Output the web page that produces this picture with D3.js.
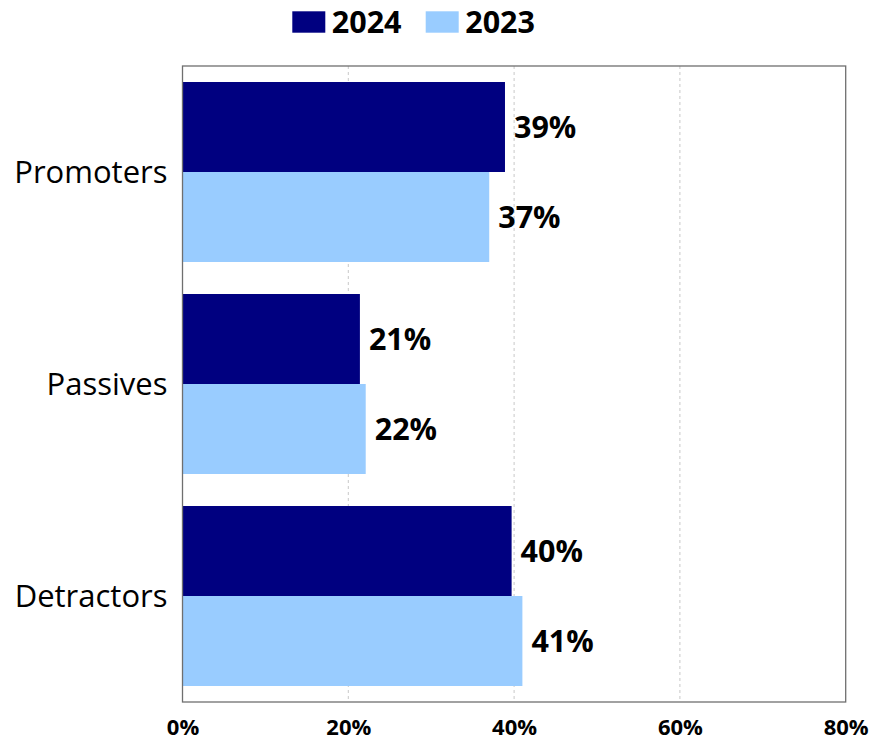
<!DOCTYPE html>
<html>
<head>
<meta charset="utf-8">
<script src="https://cdn.jsdelivr.net/npm/d3@7"></script>
<style>
  html, body { margin: 0; padding: 0; background: #fff; }
  svg { display: block; font-family: "Open Sans", sans-serif; }
</style>
</head>
<body>
<svg id="chart" width="871" height="742"></svg>
<script>
const categories = ["Promoters", "Passives", "Detractors"];
const seriesNames = ["2024", "2023"];
const values2024 = [38.9, 21.4, 39.7];
const values2023 = [37.0, 22.1, 41.0];
const xTicks = [0, 20, 40, 60, 80];
const seriesColors = ["#000080", "#99CCFF"];

const seriesValues = [values2024, values2023];
const svg = d3.select("#chart");
const margin = { left: 182.5, right: 871 - 845.7, top: 66, bottom: 742 - 702 };
const W = 871, H = 742;

const x = d3.scaleLinear().domain([0, 80]).range([margin.left, W - margin.right]);
const y = d3.scaleBand().domain(categories).range([margin.top, H - margin.bottom])
  .paddingInner(0.151).paddingOuter(0.0755);
const ys = d3.scaleBand().domain(seriesNames).range([0, y.bandwidth()]).padding(0);

// gridlines
svg.append("g").selectAll("line").data(xTicks.filter(t => t > 0 && t < 80)).join("line")
  .attr("x1", d => x(d)).attr("x2", d => x(d))
  .attr("y1", margin.top).attr("y2", H - margin.bottom)
  .attr("stroke", "#c8c8c8").attr("stroke-width", 1).attr("stroke-dasharray", "3,3");

// bars
const data = [];
categories.forEach((c, i) => seriesNames.forEach((s, j) => data.push({ c, s, j, v: seriesValues[j][i] })));

svg.append("g").selectAll("rect").data(data).join("rect")
  .attr("x", x(0))
  .attr("y", d => y(d.c) + ys(d.s))
  .attr("width", d => x(d.v) - x(0))
  .attr("height", ys.bandwidth())
  .attr("fill", d => seriesColors[d.j]);

// value labels
svg.append("g").selectAll("text").data(data).join("text")
  .attr("x", d => x(d.v) + 9)
  .attr("y", d => y(d.c) + ys(d.s) + ys.bandwidth() / 2)
  .attr("dy", "0.36em")
  .attr("font-size", 30.5).attr("font-weight", 700).attr("fill", "#000")
  .text(d => Math.round(d.v) + "%");

// frame
svg.append("rect")
  .attr("x", margin.left).attr("y", margin.top)
  .attr("width", x(80) - x(0)).attr("height", H - margin.bottom - margin.top)
  .attr("fill", "none").attr("stroke", "#6f6f6f").attr("stroke-width", 1.3);

// x axis labels
const xAxis = d3.axisBottom(x).tickValues(xTicks).tickFormat(d => d + "%").tickSize(0).tickPadding(0);
const gx = svg.append("g").attr("transform", `translate(0,${H - margin.bottom})`).call(xAxis);
gx.select(".domain").remove();
gx.selectAll("text").attr("font-family", "Open Sans").attr("font-size", 22).attr("font-weight", 700)
  .attr("fill", "#000").attr("y", 25).attr("dy", "0.36em");

// y axis labels
const yAxis = d3.axisLeft(y).tickSize(0).tickPadding(15);
const gy = svg.append("g").attr("transform", `translate(${margin.left},0)`).call(yAxis);
gy.select(".domain").remove();
gy.selectAll("text").attr("font-family", "Open Sans").attr("font-size", 31).attr("font-weight", 400)
  .attr("fill", "#000").attr("dy", "0.36em");

// legend
const legendX = [292.3, 425.7];
const lg = svg.append("g").selectAll("g").data(seriesNames).join("g")
  .attr("transform", (d, i) => `translate(${legendX[i]},11.3)`);
lg.append("rect").attr("width", 33).attr("height", 21.4).attr("fill", (d, i) => seriesColors[i]);
lg.append("text").attr("x", 39.5).attr("y", 10.7).attr("dy", "0.36em")
  .attr("font-size", 30.5).attr("font-weight", 700).attr("fill", "#000").text(d => d);
</script>
</body>
</html>
